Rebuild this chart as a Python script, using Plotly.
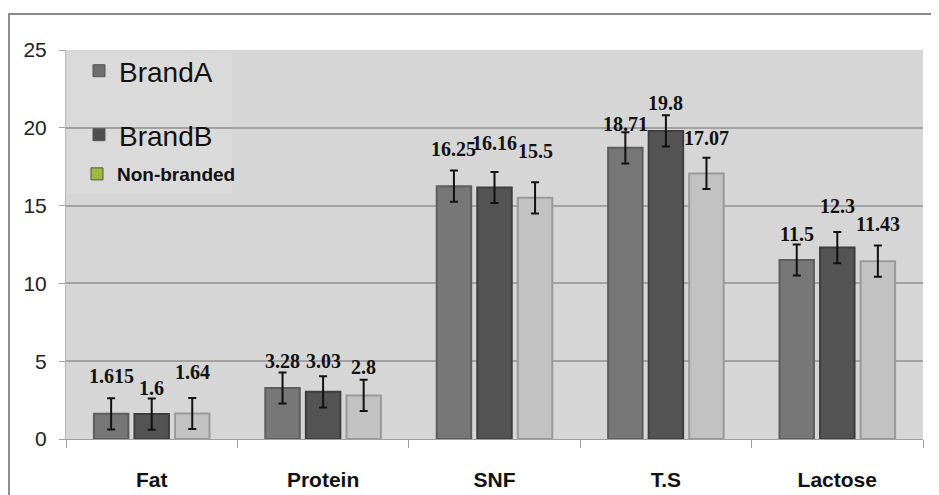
import plotly.graph_objects as go

categories = ["Fat", "Protein", "SNF", "T.S", "Lactose"]
series_names = ["BrandA", "BrandB", "Non-branded"]
brand_a = [1.615, 3.28, 16.25, 18.71, 11.5]
brand_b = [1.6, 3.03, 16.16, 19.8, 12.3]
non_branded = [1.64, 2.8, 15.5, 17.07, 11.43]
err_a = [1, 1, 1, 1, 1]
err_b = [1, 1, 1, 1, 1]
err_nb = [1, 1, 1, 1, 1]
label_text_a = ["1.615", "3.28", "16.25", "18.71", "11.5"]
label_text_b = ["1.6", "3.03", "16.16", "19.8", "12.3"]
label_text_nb = ["1.64", "2.8", "15.5", "17.07", "11.43"]
y_ticks = [0, 5, 10, 15, 20, 25]

values = [brand_a, brand_b, non_branded]
errors = [err_a, err_b, err_nb]
label_texts = [label_text_a, label_text_b, label_text_nb]

# styling
fills = ["#777777", "#545454", "#c2c2c2"]
borders = ["#5e5e5e", "#3e3e3e", "#9a9a9a"]
legend_colors = ["#6e6e6e", "#4e4e4e", "#9bbb3a"]
# extra pixel offsets of the value labels above the error bar tops
label_gap = [
    [19, 8, 19, 5, 8],
    [8, 12, 26, 9, 23],
    [23, 10, 28, 17, 19],
]

# the page body has an 8px margin; the figure is sized so it fills the window
OFF = 8
W, H = 939 - OFF, 495 - OFF
plot_left, plot_right, plot_top, plot_bottom = 66, 923, 50, 439  # window px
ml, mt = plot_left - OFF, plot_top - OFF
mr, mb = W - (plot_right - OFF), H - (plot_bottom - OFF)
pw = plot_right - plot_left
ph = plot_bottom - plot_top
bargap = 0.29
cat_w = pw / len(categories)
slot = cat_w * (1 - bargap) / 3

def px_x(px):
    return (px - plot_left) / pw

def px_y(py):
    return (plot_bottom - py) / ph

fig = go.Figure()
legends = ["legend", "legend2", "legend3"]
groups = ["g1", "g2", "g3"]
for i, name in enumerate(series_names):
    fig.add_trace(go.Bar(
        x=categories, y=values[i], name=name, offsetgroup=groups[i],
        marker=dict(color=fills[i], line=dict(color=borders[i], width=2)),
        error_y=dict(type="data", array=errors[i], color="#111111", thickness=2, width=4),
        showlegend=False,
    ))
# legend entries (legend-only swatches, overlaid on their series' slot)
for i, name in enumerate(series_names):
    fig.add_trace(go.Bar(
        x=[categories[0]], y=[None], name=name, offsetgroup=groups[i],
        marker=dict(color=legend_colors[i], line=dict(color="#555555", width=1)),
        legend=legends[i], showlegend=True, hoverinfo="skip",
    ))

annotations = []
for i in range(3):
    for j, c in enumerate(categories):
        annotations.append(dict(
            x=c, y=values[i][j] + errors[i][j], xref="x", yref="y",
            text="<b>%s</b>" % label_texts[i][j],
            showarrow=False, yanchor="bottom",
            xshift=(i - 1) * slot, yshift=label_gap[i][j] - 10,
            font=dict(family="Liberation Serif", size=20, color="#111111"),
        ))

shapes = [
    dict(type="rect", xref="paper", yref="y", x0=0.002, x1=px_x(232), y0=15.8, y1=24.85,
         fillcolor="#dadada", line=dict(width=0), layer="between"),
    dict(type="rect", xref="paper", yref="paper",
         x0=px_x(9), x1=px_x(938), y0=px_y(520), y1=px_y(14),
         line=dict(color="#8c8c8c", width=2), fillcolor="rgba(0,0,0,0)", layer="below"),
]

fig.update_layout(
    width=W, height=H,
    margin=dict(l=ml, r=mr, t=mt, b=mb, autoexpand=False),
    paper_bgcolor="white", plot_bgcolor="#d6d6d6",
    barmode="group", bargap=bargap, bargroupgap=0.15,
    annotations=annotations, shapes=shapes,
    legend=dict(x=px_x(79), y=px_y(46), xanchor="left", yanchor="top", bgcolor="rgba(0,0,0,0)",
                font=dict(family="Liberation Sans", size=28, color="#111111")),
    legend2=dict(x=px_x(79), y=px_y(110), xanchor="left", yanchor="top", bgcolor="rgba(0,0,0,0)",
                 font=dict(family="Liberation Sans", size=28, color="#111111")),
    legend3=dict(x=px_x(77), y=px_y(155), xanchor="left", yanchor="top", bgcolor="rgba(0,0,0,0)",
                 font=dict(family="Liberation Sans", size=19, color="#111111", weight="bold")),
    xaxis=dict(
        tickfont=dict(family="Liberation Sans", size=21, color="#111111", weight="bold"),
        ticks="outside", tickson="boundaries", ticklen=8, tickcolor="#a0a0a0",
        showline=True, linecolor="#a0a0a0", linewidth=1, ticklabelstandoff=22,
        automargin=False,
    ),
    yaxis=dict(
        range=[0, 25], tickvals=y_ticks,
        tickfont=dict(family="Liberation Sans", size=21, color="#222222"),
        ticks="outside", ticklen=6, tickcolor="#a0a0a0",
        showgrid=True, gridcolor="#a2a2a2", gridwidth=2,
        showline=True, linecolor="#b8b8b8", linewidth=1, zeroline=False,
        ticklabelstandoff=8, automargin=False,
    ),
)

fig.write_html("out.html")
